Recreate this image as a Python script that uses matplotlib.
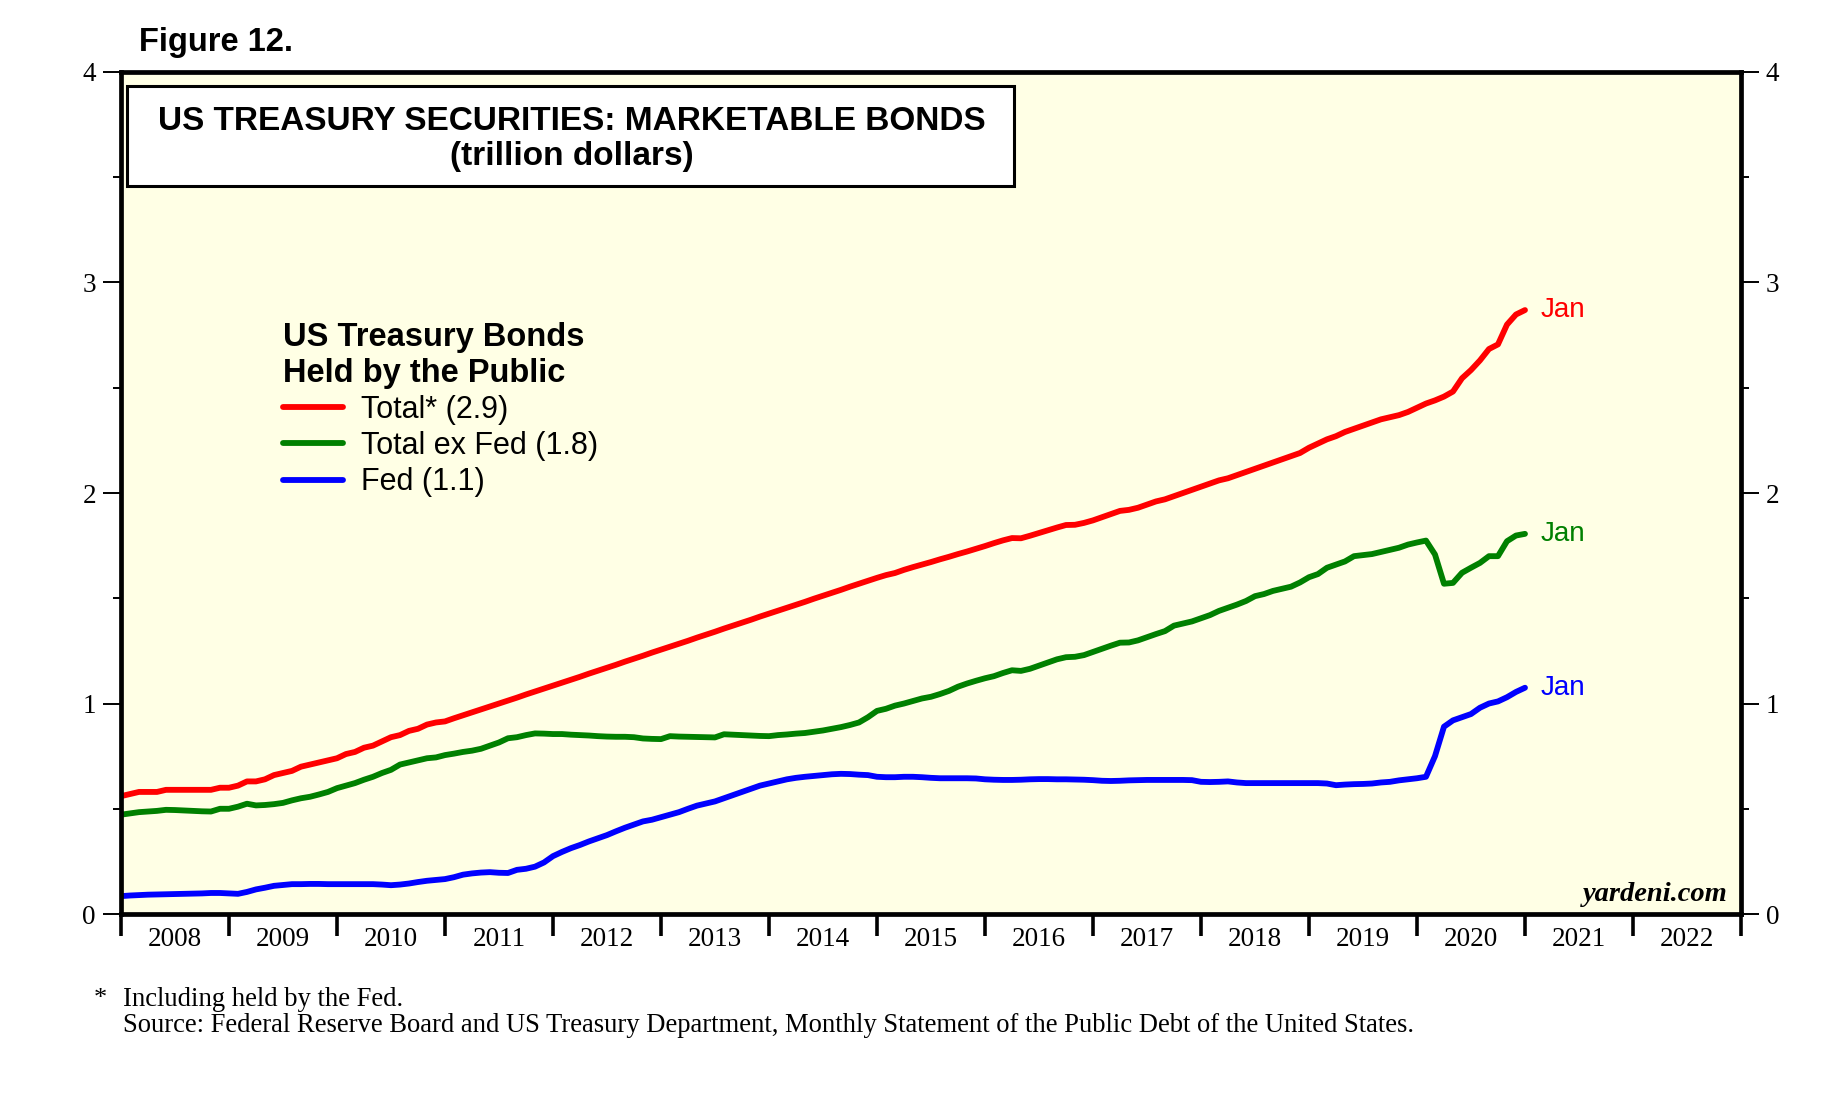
import matplotlib
matplotlib.use('Agg')
import matplotlib.pyplot as plt
from matplotlib.patches import Rectangle
from matplotlib.ticker import MultipleLocator, FixedLocator, NullFormatter

# monthly, Jan 2008 .. Jan 2021 (trillion dollars)
total = [
    0.56, 0.57, 0.58, 0.58, 0.58, 0.59, 0.59, 0.59, 0.59, 0.59, 0.59, 0.60,
    0.60, 0.61, 0.63, 0.63, 0.64, 0.66, 0.67, 0.68, 0.70, 0.71, 0.72, 0.73,
    0.74, 0.76, 0.77, 0.79, 0.80, 0.82, 0.84, 0.85, 0.87, 0.88, 0.90, 0.91,
    0.915, 0.93, 0.944, 0.958, 0.972, 0.986, 1.0, 1.014, 1.028, 1.043, 1.057, 1.071,
    1.085, 1.099, 1.113, 1.127, 1.142, 1.156, 1.17, 1.184, 1.199, 1.213, 1.227, 1.242,
    1.256, 1.27, 1.284, 1.298, 1.313, 1.327, 1.341, 1.356, 1.37, 1.384, 1.398, 1.413,
    1.427, 1.441, 1.455, 1.469, 1.483, 1.498, 1.512, 1.526, 1.54, 1.555, 1.569, 1.583,
    1.597, 1.61, 1.62, 1.635, 1.648, 1.66, 1.672, 1.685, 1.697, 1.71, 1.722, 1.735,
    1.748, 1.762, 1.775, 1.786, 1.785, 1.797, 1.81, 1.823, 1.836, 1.848, 1.849, 1.858,
    1.87, 1.885, 1.90, 1.915, 1.92, 1.93, 1.945, 1.96, 1.97, 1.985, 2.0, 2.015,
    2.03, 2.045, 2.06, 2.07, 2.085, 2.10, 2.115, 2.13, 2.145, 2.16, 2.175, 2.19,
    2.215, 2.235, 2.255, 2.27, 2.29, 2.305, 2.32, 2.335, 2.35, 2.36, 2.37, 2.385,
    2.405, 2.425, 2.44, 2.458, 2.482, 2.545, 2.584, 2.63, 2.684, 2.706, 2.80, 2.848,
    2.869,
]
ex_fed = [
    0.472, 0.478, 0.484, 0.487, 0.49, 0.495, 0.494, 0.492, 0.49, 0.488, 0.487, 0.50,
    0.50, 0.51, 0.524, 0.516, 0.518, 0.522, 0.528, 0.54, 0.55, 0.557, 0.568, 0.58,
    0.598, 0.61, 0.622, 0.638, 0.652, 0.67, 0.685, 0.71, 0.72, 0.73, 0.74, 0.744,
    0.755, 0.762, 0.77, 0.776, 0.785, 0.80, 0.815, 0.835, 0.84, 0.85, 0.858, 0.857,
    0.855, 0.855, 0.852, 0.85, 0.848, 0.845, 0.843, 0.842, 0.842, 0.84, 0.834, 0.832,
    0.831, 0.845, 0.843, 0.842, 0.841, 0.84, 0.839, 0.854, 0.852, 0.85, 0.848, 0.846,
    0.845, 0.85, 0.853, 0.857, 0.86, 0.866, 0.872, 0.88, 0.888, 0.898, 0.91, 0.935,
    0.965, 0.975, 0.99, 1.0, 1.012, 1.024, 1.032, 1.045, 1.06, 1.08, 1.095, 1.108,
    1.12, 1.13, 1.145, 1.158, 1.155, 1.165, 1.18, 1.195, 1.21, 1.22, 1.222, 1.23,
    1.245, 1.26, 1.275, 1.289, 1.29, 1.30, 1.315, 1.33, 1.344, 1.37, 1.38, 1.39,
    1.405, 1.42, 1.44, 1.455, 1.47, 1.487, 1.51, 1.52, 1.535, 1.545, 1.555, 1.575,
    1.60, 1.615, 1.645, 1.66, 1.675, 1.70, 1.705, 1.71, 1.72, 1.73, 1.74, 1.755,
    1.765, 1.774, 1.708, 1.569, 1.573, 1.621, 1.645, 1.668, 1.70, 1.70, 1.771, 1.798,
    1.806,
]
fed = [
    0.085, 0.088, 0.09, 0.092, 0.093, 0.094, 0.095, 0.096, 0.097, 0.098, 0.10, 0.10,
    0.098, 0.096, 0.105, 0.117, 0.125, 0.134, 0.138, 0.142, 0.142, 0.143, 0.143, 0.142,
    0.142, 0.142, 0.142, 0.142, 0.142, 0.14, 0.137, 0.14, 0.145, 0.152, 0.158, 0.162,
    0.166, 0.175, 0.187, 0.193, 0.197, 0.199, 0.196, 0.195, 0.21, 0.215, 0.225, 0.245,
    0.275, 0.295, 0.313, 0.328, 0.345, 0.36, 0.375, 0.393, 0.41, 0.425, 0.44, 0.448,
    0.46, 0.472, 0.484, 0.50, 0.515, 0.525, 0.535, 0.55, 0.565, 0.58, 0.595, 0.61,
    0.62, 0.63, 0.64, 0.647, 0.652, 0.656, 0.66, 0.664, 0.666, 0.665, 0.662, 0.66,
    0.652, 0.65, 0.65, 0.652, 0.652, 0.65, 0.647, 0.645, 0.645, 0.645, 0.645, 0.644,
    0.64, 0.638, 0.637, 0.637, 0.638, 0.64, 0.641, 0.641, 0.64, 0.64, 0.639, 0.638,
    0.636, 0.633, 0.632, 0.633, 0.635, 0.636, 0.637, 0.637, 0.637, 0.637, 0.637, 0.636,
    0.628, 0.627, 0.628, 0.63, 0.625, 0.622, 0.622, 0.622, 0.622, 0.622, 0.622, 0.622,
    0.622, 0.622, 0.62, 0.612, 0.615, 0.617, 0.618, 0.62, 0.625, 0.628, 0.635, 0.64,
    0.645, 0.652, 0.75, 0.89, 0.92, 0.935, 0.95, 0.98, 1.0, 1.01, 1.03, 1.055,
    1.075,
]
labels = ['Total* (2.9)', 'Total ex Fed (1.8)', 'Fed (1.1)']
colors = ['#ff0000', '#008000', '#0000ff']
years = list(range(2008, 2023))

x = [2008 + i / 12 for i in range(len(total))]

SANS = 'Liberation Sans'
SERIF = 'Liberation Serif'

fig = plt.figure(figsize=(18.33, 10.99), dpi=100)
ax = fig.add_axes([0.066, 0.1683, 0.8838, 0.7662])
ax.set_facecolor('#ffffe5')

lines = []
for s, c, l in zip([total, ex_fed, fed], colors, labels):
    ln, = ax.plot(x, s, color=c, lw=4.2, label=l, solid_capstyle='round')
    lines.append(ln)
    ax.annotate('Jan', (x[-1], s[-1]), xytext=(11, 0), textcoords='offset points',
                color=c, fontsize=20, family=SANS, va='center', ha='left')

ax.set_xlim(2008, 2023)
ax.set_ylim(0, 4)

for sp in ax.spines.values():
    sp.set_linewidth(3.4)

ax.xaxis.set_major_locator(FixedLocator(list(range(2008, 2024))))
ax.xaxis.set_major_formatter(NullFormatter())
ax.xaxis.set_minor_locator(FixedLocator([y + 0.5 for y in years]))
ax.set_xticklabels([str(y) for y in years], minor=True)
ax.tick_params(axis='x', which='major', direction='out', length=16, width=2.6)
ax.tick_params(axis='x', which='minor', length=0, pad=9, labelsize=19.5)

ax.yaxis.set_major_locator(MultipleLocator(1))
ax.yaxis.set_minor_locator(MultipleLocator(0.5))
ax.tick_params(axis='y', which='major', direction='out', length=13, width=1.4,
               left=True, right=True, labelleft=True, labelright=True, labelsize=19.5, pad=5)
ax.tick_params(axis='y', which='minor', direction='out', length=5.5, width=1.4,
               left=True, right=True)
for t in ax.get_xticklabels(which='minor') + ax.get_yticklabels():
    t.set_family(SERIF)

# title box
ax.add_patch(Rectangle((0.0037, 0.8646), 0.5475, 0.1184, transform=ax.transAxes,
                       facecolor='white', edgecolor='black', lw=2.2, zorder=5))
ax.text(0.278, 0.941, 'US TREASURY SECURITIES: MARKETABLE BONDS', transform=ax.transAxes,
        ha='center', va='center', fontsize=24, fontweight='bold', family=SANS, zorder=6)
ax.text(0.278, 0.900, '(trillion dollars)', transform=ax.transAxes,
        ha='center', va='center', fontsize=24, fontweight='bold', family=SANS, zorder=6)

leg = ax.legend(handles=lines, loc='upper left', bbox_to_anchor=(0.1, 0.703),
                frameon=False, title='US Treasury Bonds\nHeld by the Public',
                prop={'family': SANS, 'size': 22},
                title_fontproperties={'family': SANS, 'size': 23.5, 'weight': 'bold'},
                alignment='left', handlelength=1.95, handletextpad=0.6,
                labelspacing=0.2, borderpad=0, borderaxespad=0)
for h in leg.legend_handles:
    h.set_linewidth(4.2)

ax.text(0.9915, 0.008, 'yardeni.com', transform=ax.transAxes, ha='right', va='bottom',
        fontsize=20.5, fontstyle='italic', fontweight='bold', family=SERIF)

fig.text(139 / 1833, 1 - 43 / 1099, 'Figure 12.', ha='left', va='center',
         fontsize=23.5, fontweight='bold', family=SANS)
fig.text(94 / 1833, 1 - 999 / 1099, '*', ha='left', va='center', fontsize=19, family=SERIF)
fig.text(123 / 1833, 1 - 999 / 1099, 'Including held by the Fed.', ha='left', va='center',
         fontsize=19.2, family=SERIF)
fig.text(123 / 1833, 1 - 1026 / 1099,
         'Source: Federal Reserve Board and US Treasury Department, Monthly Statement of the Public Debt of the United States.',
         ha='left', va='center', fontsize=19.2, family=SERIF)

fig.savefig('out.png', dpi=100)
